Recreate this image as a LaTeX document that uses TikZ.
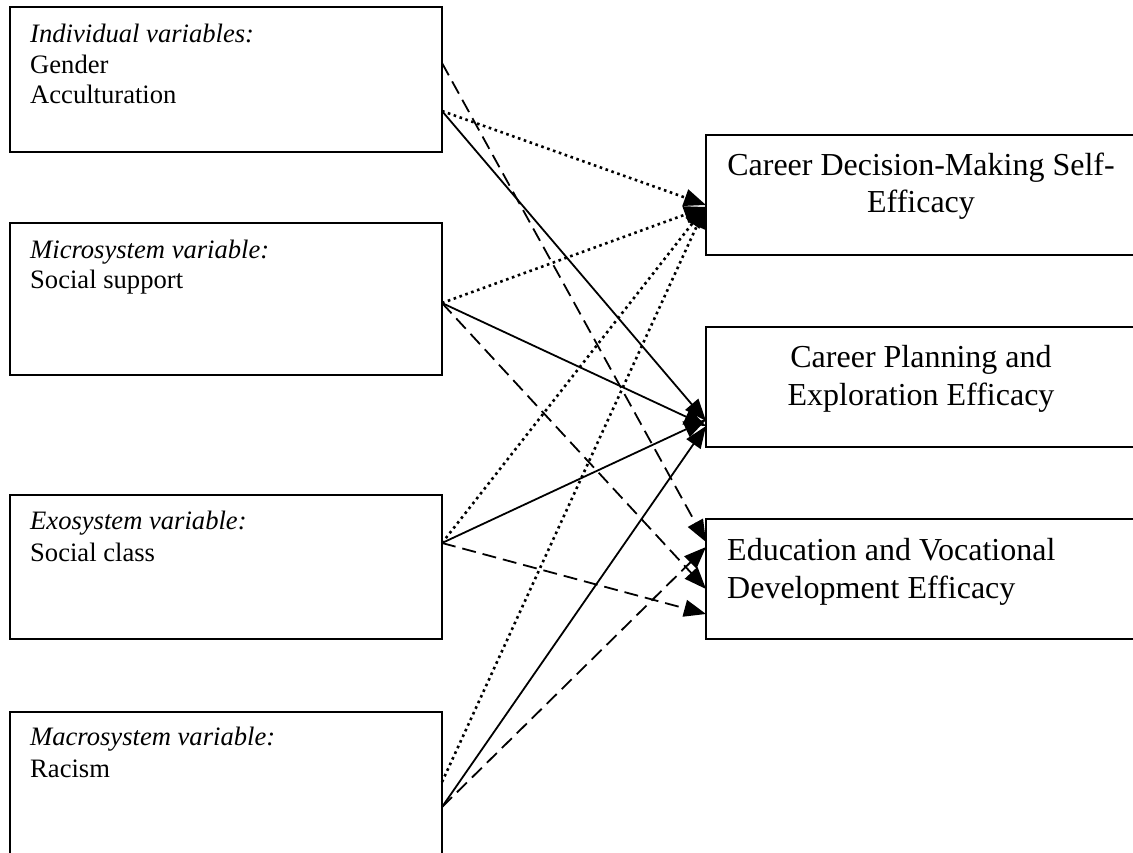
\documentclass[tikz,border=0pt]{standalone}
\usepackage{fontspec}
\setmainfont{Liberation Serif}
\usetikzlibrary{arrows.meta}
\begin{document}
\begin{tikzpicture}[x=1pt,y=-1pt,
  box/.style={draw, line width=1.9pt, rectangle, inner sep=0pt, outer sep=0pt, anchor=north west},
  ltext/.style={anchor=base west, inner sep=0pt, font=\fontsize{26.6}{31}\selectfont},
  rtext/.style={anchor=base, inner sep=0pt, font=\fontsize{32}{38}\selectfont},
  link/.style={line width=1.8pt, -{Triangle[length=22pt,width=17pt]}},
  solidlink/.style={link},
  dashlink/.style={link, dash pattern=on 14pt off 7pt},
  dotlink/.style={link, line width=2.6pt, dash pattern=on 2.6pt off 3.6pt}]
\useasboundingbox (0,0) rectangle (1133,852);
\clip (0,0) rectangle (1133,852);
\fill[white] (0,0) rectangle (1133,852);
% left boxes
\node[box, minimum width=432pt, minimum height=145pt] (b1) at (10,7) {};
\node[box, minimum width=432pt, minimum height=152pt] (b2) at (10,223) {};
\node[box, minimum width=432pt, minimum height=144pt] (b3) at (10,495) {};
\node[box, minimum width=432pt, minimum height=200pt] (b4) at (10,712) {};
% right boxes
\node[box, minimum width=431pt, minimum height=120pt] (bA) at (706,135) {};
\node[box, minimum width=431pt, minimum height=120pt] (bB) at (706,327) {};
\node[box, minimum width=431pt, minimum height=120pt] (bC) at (706,519) {};
% left texts
\node[ltext] (t1a) at (30,42) {\itshape Individual variables:};
\node[ltext] (t1b) at (30,73) {Gender};
\node[ltext] (t1c) at (30,103) {Acculturation};
\node[ltext] (t2a) at (30,258) {\itshape Microsystem variable:};
\node[ltext] (t2b) at (30,288) {Social support};
\node[ltext] (t3a) at (30,529) {\itshape Exosystem variable:};
\node[ltext] (t3b) at (30,561) {Social class};
\node[ltext] (t4a) at (30,745) {\itshape Macrosystem variable:};
\node[ltext] (t4b) at (30,777) {Racism};
% right texts
\node[rtext] (tAa) at (921,175) {Career Decision-Making Self-};
\node[rtext] (tAb) at (921,212) {Efficacy};
\node[rtext] (tBa) at (921,367) {Career Planning and};
\node[rtext] (tBb) at (921,405) {Exploration Efficacy};
\node[rtext, anchor=base west] (tCa) at (727,560) {Education and Vocational};
\node[rtext, anchor=base west] (tCb) at (727,598) {Development Efficacy};
% start points
\coordinate (o1d) at (b1.east |- 0,63);
\coordinate (o1) at (b1.east |- 0,111);
\coordinate (o2) at (b2.east |- 0,303);
\coordinate (o3) at (b3.east |- 0,543);
\coordinate (o4t) at (b4.east |- 0,782);
\coordinate (o4) at (b4.east |- 0,807);
% end points
\coordinate (iA1) at (bA.west |- 0,205);
\coordinate (iA2) at (bA.west |- 0,207);
\coordinate (iA3) at (bA.west |- 0,206);
\coordinate (iA4) at (bA.west |- 0,206);
\coordinate (iB1) at (bB.west |- 0,421);
\coordinate (iB2) at (bB.west |- 0,426);
\coordinate (iB3) at (bB.west |- 0,420);
\coordinate (iB4) at (bB.west |- 0,426);
\coordinate (iC1) at (bC.west |- 0,542);
\coordinate (iC2) at (bC.west |- 0,547);
\coordinate (iC3) at (bC.west |- 0,589);
\coordinate (iC4) at (bC.west |- 0,614);
% connectors
\draw[dotlink] (o1) -- (iA1);
\draw[solidlink] (o1) -- (iB1);
\draw[dashlink] (o1d) -- (iC1);
\draw[dotlink] (o2) -- (iA2);
\draw[solidlink] (o2) -- (iB2);
\draw[dashlink] (o2) -- (iC3);
\draw[dotlink] (o3) -- (iA3);
\draw[solidlink] (o3) -- (iB3);
\draw[dashlink] (o3) -- (iC4);
\draw[dotlink] (o4t) -- (iA4);
\draw[solidlink] (o4) -- (iB4);
\draw[dashlink] (o4) -- (iC2);
\end{tikzpicture}
\end{document}
